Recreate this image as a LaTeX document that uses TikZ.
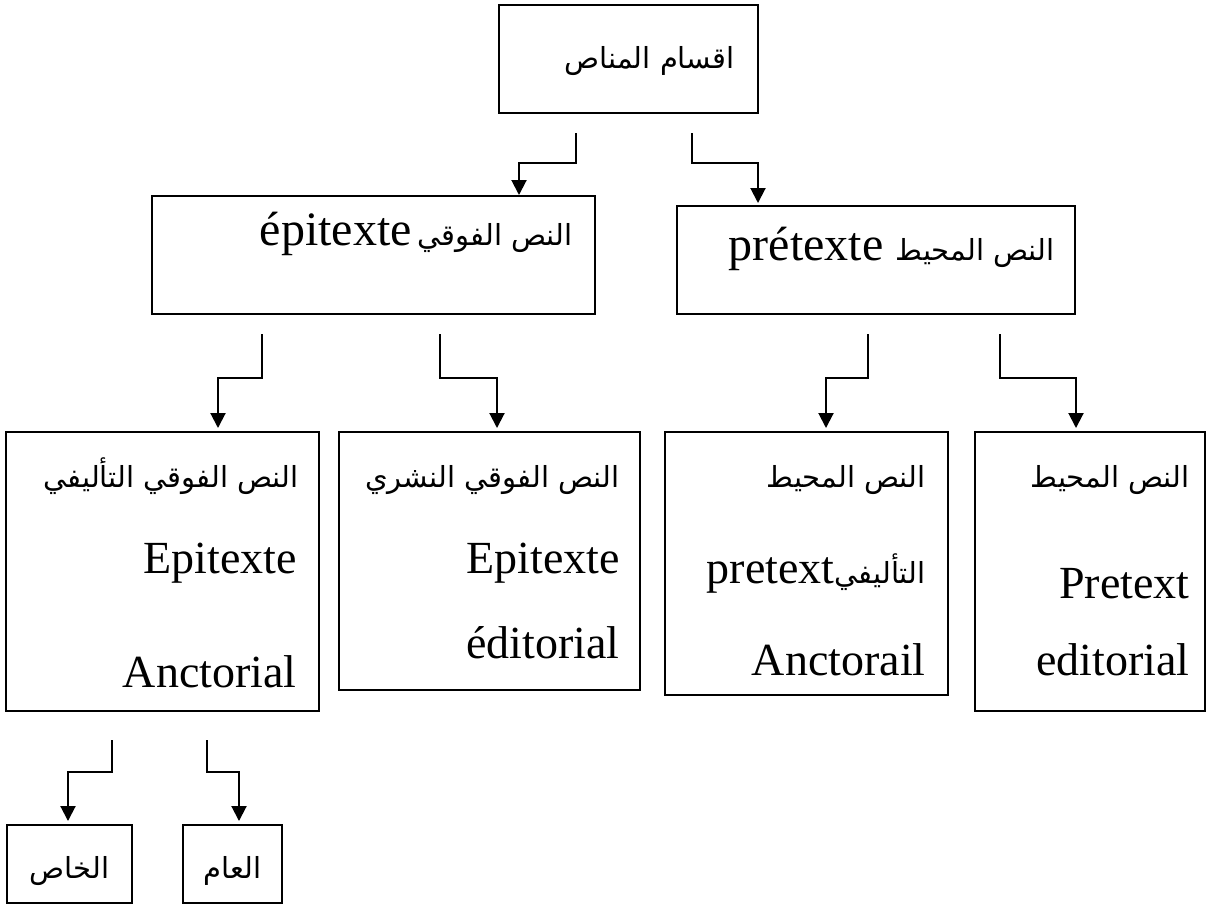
\documentclass[tikz,border=0pt]{standalone}
\usepackage{fontspec}
\setmainfont{Liberation Serif}
\newfontfamily\arfont[Script=Arabic]{DejaVu Sans}
\TeXXeTstate=1
\newcommand\ArT{\arfont\fontsize{14.5}{17}\selectfont}
\newcommand\LaT{\rmfamily\fontsize{23}{27}\selectfont}
\newcommand\LaB{\rmfamily\fontsize{24}{28}\selectfont}
\usetikzlibrary{arrows.meta,calc}
\tikzset{
  boxx/.style={draw, line width=1pt, inner sep=0pt},
  arr/.style={line width=1pt, -{Triangle[width=7.5pt,length=7.5pt]}},
  txt/.style={anchor=base east, inner sep=0pt, font=\LaT},
  ctxt/.style={anchor=base, inner sep=0pt, font=\ArT},
}
\begin{document}
\begin{tikzpicture}[x=0.5pt,y=-0.5pt]
\useasboundingbox (0,0) rectangle (1214,907);
% boxes
\node[boxx, minimum width=129.5pt, minimum height=54pt] (top) at (628.5,59) {};
\node[boxx, minimum width=221.5pt, minimum height=59pt] (epi) at (373.5,255) {};
\node[boxx, minimum width=199pt, minimum height=54pt] (pre) at (876,260) {};
\node[boxx, minimum width=156.5pt, minimum height=139.5pt] (r1) at (162.5,571.5) {};
\node[boxx, minimum width=150.5pt, minimum height=129pt] (r2) at (489.5,561) {};
\node[boxx, minimum width=141.5pt, minimum height=131.5pt] (r3) at (806.5,563.5) {};
\node[boxx, minimum width=115pt, minimum height=139.5pt] (r4) at (1090,571.5) {};
\node[boxx, minimum width=62.5pt, minimum height=39pt] (s1) at (69.5,864) {};
\node[boxx, minimum width=49.5pt, minimum height=39pt] (s2) at (232.5,864) {};
% texts
\node[txt] (t0) at (735,68) {\ArT\beginR اقسام المناص\endR};
\node[txt, font=\LaB] (t1) at (573,245) {\beginR{\ArT النص الفوقي}\hspace{3pt}\beginL épitexte\endL\endR};
\node[txt, font=\LaB] (t2) at (1055,260) {\beginR{\ArT النص المحيط} \beginL prétexte\endL\endR};
\node[txt] (t3a) at (299,487) {\ArT\beginR النص الفوقي التأليفي\endR};
\node[txt] (t3b) at (297,573) {Epitexte};
\node[txt] (t3c) at (297,687) {Anctorial};
\node[txt] (t4a) at (620,487) {\ArT\beginR النص الفوقي النشري\endR};
\node[txt] (t4b) at (620,573) {Epitexte};
\node[txt] (t4c) at (620,658) {éditorial};
\node[txt] (t5a) at (926,487) {\ArT\beginR النص المحيط\endR};
\node[txt] (t5b) at (926,583) {\beginR{\ArT التأليفي}\beginL pretext\endL\endR};
\node[txt] (t5c) at (926,675) {Anctorail};
\node[txt] (t6a) at (1190,487) {\ArT\beginR النص المحيط\endR};
\node[txt] (t6b) at (1190,598) {Pretext};
\node[txt] (t6c) at (1190,675) {editorial};
\node[ctxt] (t7) at (s1.center) [yshift=-7pt] {\beginR الخاص\endR};
\node[ctxt] (t8) at (s2.center) [yshift=-7pt] {\beginR العام\endR};
% connectors
\coordinate (a1s) at (576,133); \coordinate (a1e) at (519,195);
\coordinate (a2s) at (692,133); \coordinate (a2e) at (758,203);
\draw[arr] (a1s) |- ($(a1s |- 0,163)!.5!(a1e |- 0,163)$) -| (a1e);
\draw[arr] (a2s) |- ($(a2s |- 0,163)!.5!(a2e |- 0,163)$) -| (a2e);
\coordinate (b1s) at (262,334); \coordinate (b1e) at (218,428);
\coordinate (b2s) at (440,334); \coordinate (b2e) at (497,428);
\coordinate (b3s) at (868,334); \coordinate (b3e) at (826,428);
\coordinate (b4s) at (1000,334); \coordinate (b4e) at (1076,428);
\foreach \n in {b1,b2,b3,b4}
  \draw[arr] (\n s) |- ($(\n s |- 0,378)!.5!(\n e |- 0,378)$) -| (\n e);
\coordinate (c1s) at (112,740); \coordinate (c1e) at (68,821);
\coordinate (c2s) at (207,740); \coordinate (c2e) at (239,821);
\foreach \n in {c1,c2}
  \draw[arr] (\n s) |- ($(\n s |- 0,772)!.5!(\n e |- 0,772)$) -| (\n e);
\end{tikzpicture}
\end{document}
